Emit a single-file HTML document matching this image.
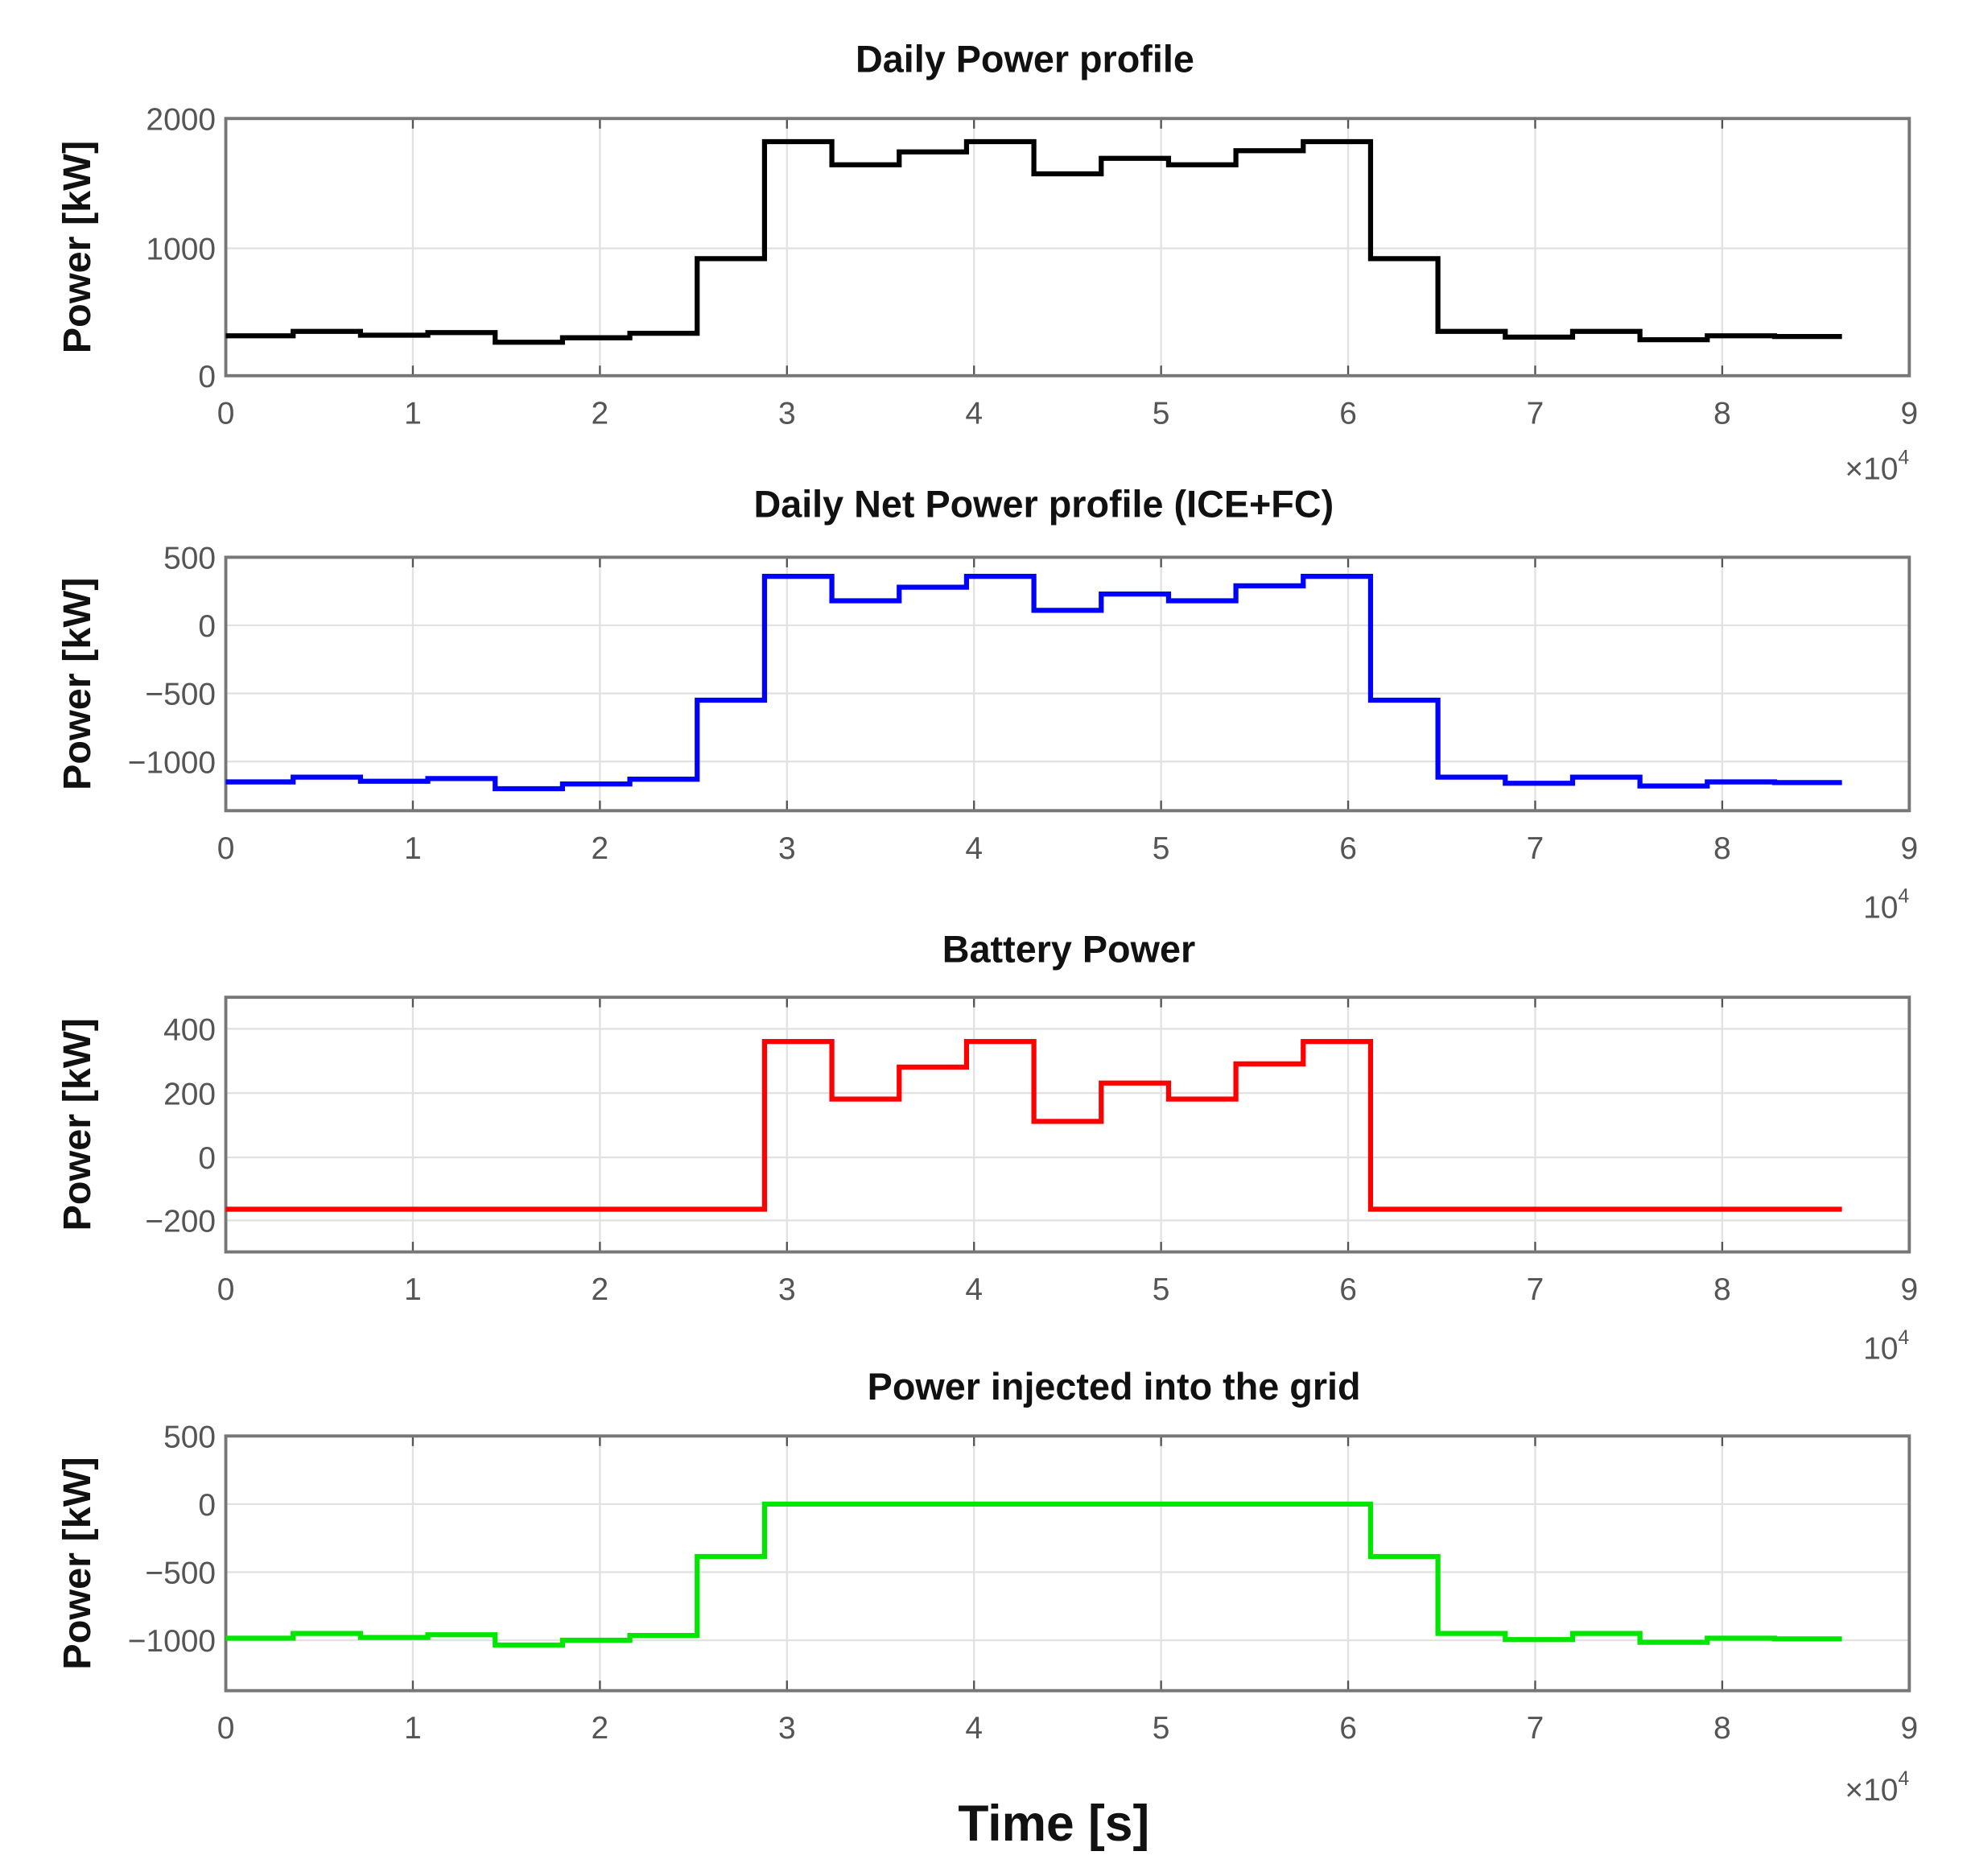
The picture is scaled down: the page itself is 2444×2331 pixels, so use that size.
<!DOCTYPE html>
<html><head><meta charset="utf-8"><style>
html,body{margin:0;padding:0;background:#fff;}
svg{display:block;}
</style></head><body>
<svg id="s" width="2444" height="2331" viewBox="0 0 1568 1488" preserveAspectRatio="none" xmlns="http://www.w3.org/2000/svg" font-family="Liberation Sans, sans-serif"></svg>
<script>
const S=document.getElementById('s');let h='';
const P1=[310,345,315,335,260,295,330,910,1820,1640,1740,1820,1570,1690,1640,1750,1820,910,345,300,345,280,310,305];
const net=P1.map(v=>v-1460);
const bat=net.map((v,i)=>(i>=8&&i<=16)?v:-165);
const grid=net.map((v,i)=>v-bat[i]);
const X0=180,X1=1522,xs=(X1-X0)/9e4;
const panels=[
 {top:94,bot:298,ticks:[[0,298],[1000,197],[2000,94]],data:P1,col:'#000',title:'Daily Power profile',tx:817,ty:57,exp:'×10',ey:380},
 {top:442,bot:643,ticks:[[500,442],[0,496],[-500,550],[-1000,604]],data:net,col:'#0000ff',title:'Daily Net Power profile (ICE+FC)',tx:832,ty:410,exp:'10',ey:728},
 {top:791,bot:993,ticks:[[400,816],[200,867],[0,918],[-200,968]],data:bat,col:'#ff0000',title:'Battery Power',tx:852,ty:763,exp:'10',ey:1078},
 {top:1139,bot:1341,ticks:[[500,1139],[0,1193],[-500,1247],[-1000,1301]],data:grid,col:'#00e600',title:'Power injected into the grid',tx:888,ty:1110,exp:'×10',ey:1428}
];
panels.forEach(p=>{
 const a=p.ticks[0],b=p.ticks[p.ticks.length-1];
 const ys=v=>a[1]+(v-a[0])*(b[1]-a[1])/(b[0]-a[0]);
 h+=`<rect x="${X0}" y="${p.top}" width="${X1-X0}" height="${p.bot-p.top}" fill="#fff"/>`;
 for(let i=1;i<9;i++){const x=X0+i*1e4*xs;h+=`<line x1="${x}" y1="${p.top}" x2="${x}" y2="${p.bot}" stroke="#e2e2e2" stroke-width="1.5"/>`;}
 p.ticks.forEach(t=>{h+=`<line x1="${X0}" y1="${t[1]}" x2="${X1}" y2="${t[1]}" stroke="#e2e2e2" stroke-width="1.5"/>`;
  h+=`<text x="${X0-8}" y="${t[1]+9}" text-anchor="end" font-size="25" fill="#555">${t[0]<0?'−'+(-t[0]):t[0]}</text>`;});
 for(let i=0;i<=9;i++){const x=X0+i*1e4*xs;h+=`<text x="${x}" y="${p.bot+38}" text-anchor="middle" font-size="25" fill="#555">${i}</text>`;
  h+=`<line x1="${x}" y1="${p.top}" x2="${x}" y2="${p.top+8}" stroke="#555" stroke-width="1.5"/><line x1="${x}" y1="${p.bot}" x2="${x}" y2="${p.bot-8}" stroke="#555" stroke-width="1.5"/>`;}
 h+=`<rect x="${X0}" y="${p.top}" width="${X1-X0}" height="${p.bot-p.top}" fill="none" stroke="#777" stroke-width="2.5"/>`;
 let pts=[];p.data.forEach((v,i)=>{const y=ys(v);pts.push(`${X0+i*3600*xs},${y}`,`${X0+(i+1)*3600*xs},${y}`);});
 h+=`<polyline points="${pts.join(' ')}" fill="none" stroke="${p.col}" stroke-width="4" stroke-linejoin="miter"/>`;
 h+=`<text x="${p.tx}" y="${p.ty}" text-anchor="middle" font-size="30" font-weight="bold" fill="#111">${p.title}</text>`;
 const cy=(p.top+p.bot)/2;
 h+=`<text transform="translate(72,${cy}) rotate(-90)" text-anchor="middle" font-size="31" font-weight="bold" fill="#111">Power [kW]</text>`;
 h+=`<text x="1522" y="${p.ey}" text-anchor="end" font-size="25" fill="#555">${p.exp}<tspan dy="-12" font-size="16">4</tspan></text>`;
});
h+=`<text x="840" y="1460" text-anchor="middle" font-size="40" font-weight="bold" fill="#111">Time [s]</text>`;
S.innerHTML=h;
</script>
</body></html>
